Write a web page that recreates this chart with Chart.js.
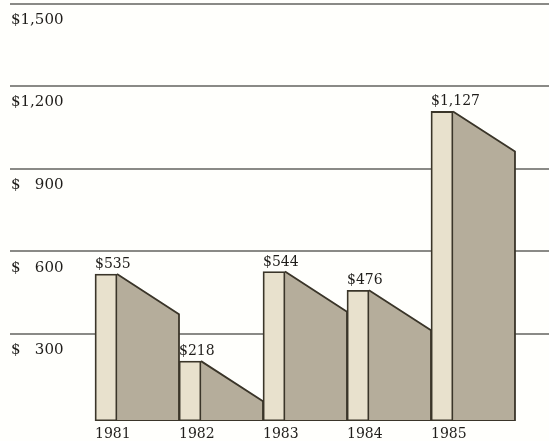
<!DOCTYPE html>
<html><head><meta charset="utf-8">
<script src="https://cdn.jsdelivr.net/npm/chart.js@4/dist/chart.umd.min.js"></script>
<style>html,body{margin:0;padding:0;background:#fffffc;} #wrap{position:relative;width:549px;height:441px;}</style>
</head><body><div id="wrap"><canvas id="c"></canvas></div>
<script>
// ---- data ----
const years = ['1981', '1982', '1983', '1984', '1985'];
const values = [535, 218, 544, 476, 1127];
const valueLabels = ['$535', '$218', '$544', '$476', '$1,127'];
const yTicks = [300, 600, 900, 1200, 1500];
const yTickLabels = ['$   300', '$   600', '$   900', '$1,200', '$1,500'];

// ---- style ----
const FRONT = 0.262;   // share of each category step used by the front face
const DROP = 146;      // depth of the slanted top, in value units
const CREAM = '#e8e1cd', SHADE = '#b5ad9b', EDGE = '#3a3529', INK = '#1f1d1a', GRID = '#8a8a86';
const SERIF = '"DejaVu Serif", serif';

const datasets = [];
datasets.push({
  type: 'bar', data: values.map((v, i) => ({x: i + FRONT / 2, y: v})),
  backgroundColor: CREAM, borderColor: EDGE, borderWidth: 1.8, borderSkipped: false,
  barThickness: 22, grouped: false, xAxisID: 'x', yAxisID: 'y2', order: 1
});
values.forEach((v, i) => datasets.push({
  type: 'line', data: [{x: i + FRONT, y: v}, {x: i + 1, y: v - DROP}, {x: i + 1, y: 0}],
  borderColor: EDGE, borderWidth: 1.8, backgroundColor: SHADE, fill: 'origin',
  pointRadius: 0, tension: 0, xAxisID: 'x', yAxisID: 'y2', order: 2
}));
datasets.push({
  type: 'line', data: [{x: 0, y: 0}, {x: years.length, y: 0}],
  borderColor: EDGE, borderWidth: 2, pointRadius: 0, fill: false,
  xAxisID: 'x', yAxisID: 'y2', order: 0
});

const valueLabelPlugin = {
  id: 'valueLabels',
  afterDatasetsDraw(chart) {
    const meta = chart.getDatasetMeta(0);
    const ctx = chart.ctx;
    ctx.save();
    ctx.font = '14px ' + SERIF;
    ctx.fillStyle = INK; ctx.textAlign = 'left'; ctx.textBaseline = 'alphabetic';
    meta.data.forEach((bar, i) => ctx.fillText(valueLabels[i], bar.x - bar.width / 2, bar.y - 6));
    ctx.restore();
  }
};

new Chart(document.getElementById('c'), {
  type: 'bar',
  data: {datasets},
  options: {
    responsive: true, maintainAspectRatio: false, animation: false,
    layout: {padding: {left: 10, right: 0, top: 3.5, bottom: 0}},
    plugins: {legend: {display: false}, tooltip: {enabled: false}},
    scales: {
      x: {
        type: 'linear', min: -1.012, max: 5.405, offset: false,
        afterBuildTicks: s => { s.ticks = years.map((_, i) => ({value: i})); },
        afterFit: s => { s.height = 20; },
        grid: {display: false, drawTicks: false}, border: {display: false},
        ticks: {autoSkip: false, maxRotation: 0, align: 'start', padding: 5,
          color: INK, font: {family: SERIF, size: 14},
          callback: (v, i) => years[i]}
      },
      y: {
        type: 'linear', min: -17, max: 1500,
        afterBuildTicks: s => { s.ticks = yTicks.map(v => ({value: v})); },
        afterFit: s => { s.width = 0; },
        grid: {color: GRID, lineWidth: 2, drawTicks: false}, border: {display: false},
        ticks: {mirror: true, padding: 1, align: 'start', labelOffset: 9,
          color: INK, font: {family: SERIF, size: 15},
          callback: (v, i) => yTickLabels[i]}
      },
      y2: {
        type: 'linear', min: 0, max: 1520, display: false
      }
    }
  },
  plugins: [valueLabelPlugin]
});
</script>
</body></html>
